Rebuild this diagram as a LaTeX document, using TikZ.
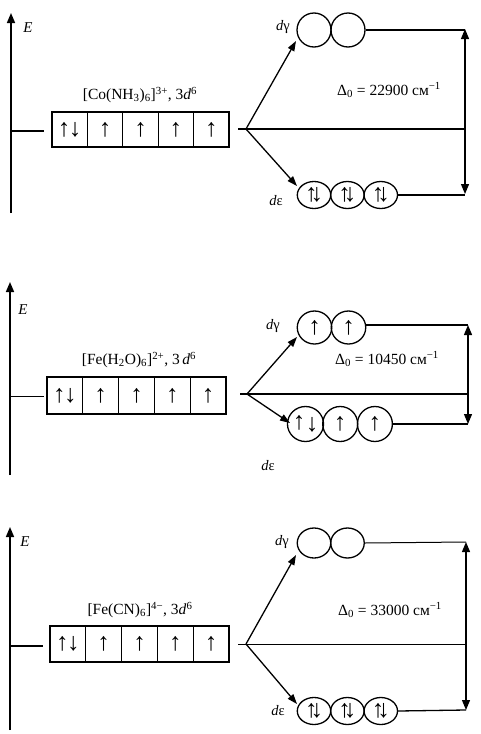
\documentclass[tikz,border=0pt]{standalone}
\usepackage{fontspec}
\setmainfont{Liberation Serif}
\usetikzlibrary{arrows.meta,shapes.geometric}
\tikzset{
  ln/.style={line width=1.3pt},
  thinln/.style={line width=1pt},
  ax/.style={line width=1.6pt,-{Triangle[length=10pt,width=8pt]}},
  arr/.style={line width=1.3pt,-{Triangle[length=10pt,width=7pt]}},
  dbl/.style={line width=1.2pt,{Triangle[length=10pt,width=8pt]}-{Triangle[length=10pt,width=8pt]}},
  cell/.style={draw,line width=1.3pt,inner sep=0pt,font=\fontsize{25}{25}\selectfont},
  orb/.style={draw,ellipse,line width=1.3pt,inner sep=0pt,font=\fontsize{25}{25}\selectfont},
  lbl/.style={inner sep=0pt,font=\fontsize{15.5}{17}\selectfont},
  dlbl/.style={inner sep=0pt,font=\fontsize{14.5}{17}\selectfont},
  elbl/.style={inner sep=0pt,font=\fontsize{15}{17}\selectfont\itshape},
}
\newcommand{\ud}{↑\kern-1.5pt↓}
\newcommand{\pr}{↑\kern-7pt↓}
\begin{document}
\begin{tikzpicture}[x=1pt,y=-1pt]
\useasboundingbox (0,0) rectangle (480,734);
\fill[white] (0,0) rectangle (480,734);

% ================= Panel 1 =================
\coordinate (a1b) at (11,213); \coordinate (a1t) at (11,13);
\draw[ax] (a1b) -- (a1t);
\node[elbl] (E1) at (28,28) {E};
\coordinate (s1l) at (11,131); \coordinate (s1r) at (44,131);
\draw[ln] (s1l) -- (s1r);
\begin{scope}[cell/.append style={minimum width=35.4pt,minimum height=35pt}]
\node[cell] (c10) at (69.7,129.5) {\ud};
\foreach \i in {1,...,4} \node[cell] (c1\i) at ({69.7+35.4*\i},129.5) {↑};
\end{scope}
\node[lbl] (n1) at (140,95) {[Co(NH\textsubscript{3})\textsubscript{6}]\textsuperscript{3+}, 3\textit{d}\textsuperscript{6}};
\coordinate (m1l) at (238,129); \coordinate (S1) at (246,129); \coordinate (m1r) at (465,129);
\draw[ln] (m1l) -- (m1r);
\begin{scope}[orb/.append style={minimum width=34pt,minimum height=34pt}]
\node[orb] (g11) at (314,30) {};
\node[orb] (g12) at (348,30) {};
\end{scope}
\begin{scope}[orb/.append style={minimum width=33.4pt,minimum height=27pt}]
\node[orb] (e11) at (314,195) {\pr};
\node[orb] (e12) at (347.4,195) {\pr};
\node[orb] (e13) at (380.8,195) {\pr};
\end{scope}
\coordinate (r1t) at (465,29); \coordinate (r1b) at (465,194);
\draw[ln] (g12.east) -- (g12.east -| r1t);
\draw[ln] (e13.east) -- (e13.east -| r1b);
\draw[dbl] (r1t) -- (r1b);
\coordinate (t1g) at (296,41); \coordinate (t1e) at (297,186);
\draw[arr] (S1) -- (t1g);
\draw[arr] (S1) -- (t1e);
\node[lbl] (D1) at (389,90) {Δ\textsubscript{0} = 22900 см\textsuperscript{−1}};
\node[dlbl] (dg1) at (283,27) {\textit{d}γ};
\node[dlbl] (de1) at (276,201) {\textit{d}ε};

% ================= Panel 2 =================
\coordinate (a2b) at (10,475); \coordinate (a2t) at (10,282);
\draw[ax] (a2b) -- (a2t);
\node[elbl] (E2) at (23,310) {E};
\coordinate (s2l) at (10,396); \coordinate (s2r) at (44,396);
\draw[thinln] (s2l) -- (s2r);
\begin{scope}[cell/.append style={minimum width=35.8pt,minimum height=37pt}]
\node[cell] (c20) at (64.9,395.5) {\ud};
\foreach \i in {1,...,4} \node[cell] (c2\i) at ({64.9+35.8*\i},395.5) {↑};
\end{scope}
\node[lbl] (n2) at (139,360) {[Fe(H\textsubscript{2}O)\textsubscript{6}]\textsuperscript{2+}, 3\,\textit{d}\textsuperscript{6}};
\coordinate (m2l) at (240,394); \coordinate (S2) at (247,394); \coordinate (m2r) at (468,394);
\draw[ln] (m2l) -- (m2r);
\begin{scope}[orb/.append style={minimum width=34.5pt,minimum height=33pt}]
\node[orb] (g21) at (314.5,327.5) {↑};
\node[orb] (g22) at (348.5,327.5) {↑};
\end{scope}
\begin{scope}[orb/.append style={minimum width=35pt,minimum height=35pt}]
\node[orb] (e21) at (305.5,424) {↑\kern0.5pt\raisebox{-2pt}{↓}};
\node[orb] (e22) at (340.2,424) {↑};
\node[orb] (e23) at (374.9,424) {↑};
\end{scope}
\coordinate (r2t) at (468,325); \coordinate (r2b) at (468,424);
\draw[ln] (g22.east) ++(0,-2.5) -- (r2t);
\draw[ln] (e23.east) -- (r2b);
\draw[dbl] (r2t) -- (r2b);
\coordinate (t2g) at (297,337); \coordinate (t2e) at (290,423);
\draw[arr] (S2) -- (t2g);
\draw[arr] (S2) -- (t2e);
\node[lbl] (D2) at (387,359) {Δ\textsubscript{0} = 10450 см\textsuperscript{−1}};
\node[dlbl] (dg2) at (273,326) {\textit{d}γ};
\node[dlbl] (de2) at (268,466) {\textit{d}ε};

% ================= Panel 3 =================
\coordinate (a3b) at (10,730); \coordinate (a3t) at (10,527);
\draw[ax] (a3b) -- (a3t);
\node[elbl] (E3) at (25,542) {E};
\coordinate (s3l) at (10,646); \coordinate (s3r) at (43,646);
\draw[ln] (s3l) -- (s3r);
\begin{scope}[cell/.append style={minimum width=35.8pt,minimum height=36pt}]
\node[cell] (c30) at (67.9,644) {\ud};
\foreach \i in {1,...,4} \node[cell] (c3\i) at ({67.9+35.8*\i},644) {↑};
\end{scope}
\node[lbl] (n3) at (140,610) {[Fe(CN)\textsubscript{6}]\textsuperscript{4−}, 3\textit{d}\textsuperscript{6}};
\coordinate (m3l) at (238,644); \coordinate (S3) at (246,644); \coordinate (m3r) at (466,644);
\draw[thinln] (m3l) -- (m3r);
\begin{scope}[orb/.append style={minimum width=33.5pt,minimum height=30pt}]
\node[orb] (g31) at (314,543) {};
\node[orb] (g32) at (347.5,543) {};
\end{scope}
\begin{scope}[orb/.append style={minimum width=33.4pt,minimum height=27pt}]
\node[orb] (e31) at (314,711) {\pr};
\node[orb] (e32) at (347.4,711) {\pr};
\node[orb] (e33) at (380.8,711) {\pr};
\end{scope}
\coordinate (r3t) at (466,542); \coordinate (r3b) at (466,710);
\draw[thinln] (g32.east) -- (r3t);
\draw[ln] (e33.east) -- (r3b);
\draw[dbl] (r3t) -- (r3b);
\coordinate (t3g) at (296,555); \coordinate (t3e) at (297,704);
\draw[arr] (S3) -- (t3g);
\draw[arr] (S3) -- (t3e);
\node[lbl] (D3) at (390,610) {Δ\textsubscript{0} = 33000 см\textsuperscript{−1}};
\node[dlbl] (dg3) at (282,542) {\textit{d}γ};
\node[dlbl] (de3) at (278,711) {\textit{d}ε};
\end{tikzpicture}
\end{document}
